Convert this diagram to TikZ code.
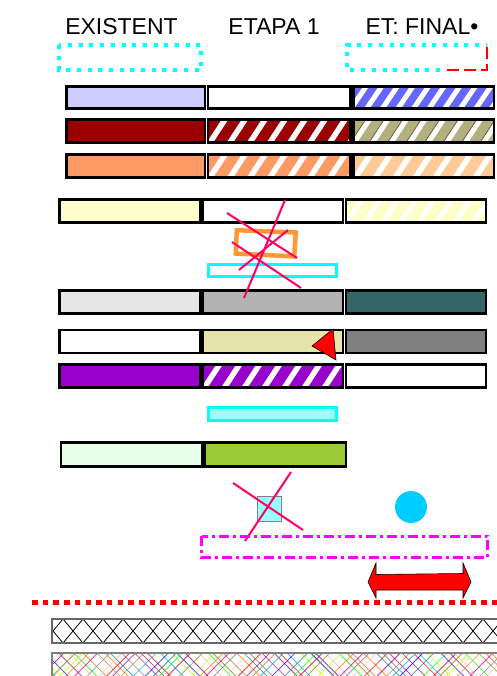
\documentclass[tikz,border=0pt]{standalone}
\usepackage{fontspec}
\setmainfont{Liberation Sans}
\usepackage{xcolor}
\usepackage{tikz}

\definecolor{barlilac}{HTML}{CCCCFF}
\definecolor{barblue}{HTML}{6666FF}
\definecolor{barwine}{HTML}{990000}
\definecolor{barolive}{HTML}{B3B080}
\definecolor{barbrown}{HTML}{7A5A2A}
\definecolor{barsalmon}{HTML}{FF9966}
\definecolor{barpeach}{HTML}{FFCC99}
\definecolor{barcream}{HTML}{FFFFCC}
\definecolor{barlemon}{HTML}{FFFF88}
\definecolor{barsilver}{HTML}{E6E6E6}
\definecolor{bargray}{HTML}{B3B3B3}
\definecolor{barteal}{HTML}{336666}
\definecolor{barbeige}{HTML}{E6E3AD}
\definecolor{bardim}{HTML}{808080}
\definecolor{barpurple}{HTML}{9900CC}
\definecolor{barmint}{HTML}{E6FFE6}
\definecolor{barlime}{HTML}{99CC33}
\definecolor{aqua}{HTML}{99FFFF}
\definecolor{aqualine}{HTML}{00FFFF}
\definecolor{fuchsia}{HTML}{FF00FF}
\definecolor{pure red}{HTML}{FF0000}
\definecolor{sky}{HTML}{00CCFF}
\definecolor{slash}{HTML}{FF0066}
\definecolor{tangerine}{HTML}{FF9933}

\tikzset{
  bar/.style={draw=black,line width=2.5pt},
  cross/.style={slash,line width=2pt},
  heading/.style={anchor=base,inner sep=0pt,font=\fontsize{23}{27}\selectfont}
}

% white bands across a cell
\newcommand{\stripes}[6]{%
  \begin{scope}
    \clip (#1,#2) rectangle (#3,#4);
    \foreach \k in {0,...,17}
      \draw[#6] ({#1-22+\k*#5},#4+6) -- ({#1+1+\k*#5},#2-6);
  \end{scope}}

\begin{document}
\begin{tikzpicture}[x=1pt,y=-1pt]
\useasboundingbox (0,0) rectangle (496,676);

% headings
\node[heading] (existent) at (121.5,34.3) {EXISTENT};
\node[heading] (etapa) at (274,34.3) {ETAPA 1};
\node[heading] (final) at (422,34.3) {ET: FINAL•};

% dotted frames
\draw[aqualine,line width=4pt,dash pattern=on 4pt off 6.7pt] (59,45) rectangle (201,70);
\draw[aqualine,line width=4pt,dash pattern=on 4pt off 6.7pt] (440,70) -- (347,70) -- (347,45) -- (486,45);
\draw[pure red,line width=2pt,dash pattern=on 12pt off 5pt] (487,47) -- (487,70) -- (444,70);

% rows 1-3
\draw[bar,fill=barlilac] (66.5,86.5) rectangle (205,108.5);
\draw[bar,fill=white] (208,86.5) rectangle (350.5,108.5);
\fill[barblue] (353.5,86.5) rectangle (494,108.5);
\stripes{353.5}{86.5}{494}{108.5}{15.6}{white,line width=5pt}
\draw[bar] (353.5,86.5) rectangle (494,108.5);

\draw[bar,fill=barwine] (66.5,119.5) rectangle (205,142.5);
\fill[barwine] (208,119.5) rectangle (350.5,142.5);
\stripes{208}{119.5}{350.5}{142.5}{20}{white,line width=5.5pt}
\draw[bar] (208,119.5) rectangle (350.5,142.5);
\fill[barolive] (353.5,119.5) rectangle (494,142.5);
\stripes{353.5}{119.5}{494}{142.5}{18.5}{white,line width=5.5pt}
\stripes{353.5}{119.5}{494}{142.5}{18.5}{barbrown,line width=0.8pt,xshift=-3.4pt}
\draw[bar] (353.5,119.5) rectangle (494,142.5);

\draw[bar,fill=barsalmon] (66.5,154.5) rectangle (205,177.5);
\fill[barsalmon] (208,154.5) rectangle (350.5,177.5);
\stripes{208}{154.5}{350.5}{177.5}{20}{white,line width=5.5pt}
\draw[bar] (208,154.5) rectangle (350.5,177.5);
\fill[barpeach] (353.5,154.5) rectangle (494,177.5);
\stripes{353.5}{154.5}{494}{177.5}{20}{white,line width=5.5pt}
\draw[bar] (353.5,154.5) rectangle (494,177.5);

% row 4
\draw[bar,fill=barcream] (59.5,199.5) rectangle (200,222.5);
\draw[bar,fill=white] (202.5,199.5) rectangle (343,222.5);
\fill[barcream] (346,199.5) rectangle (486,222.5);
\stripes{346}{199.5}{486}{222.5}{18}{white,line width=5.5pt}
\stripes{346}{199.5}{486}{222.5}{18}{barlemon,line width=0.8pt,xshift=-3.4pt}
\draw[bar] (346,199.5) rectangle (486,222.5);

% frames under row 4
\draw[tangerine,line width=4.5pt] (236.8,230.2) -- (295.8,232.5) -- (294.2,256.5) -- (235.8,253.5) -- cycle;
\draw[aqualine,line width=2.5pt] (208.3,264.3) rectangle (336.7,276.7);

% row 5
\draw[bar,fill=barsilver] (59.5,290.5) rectangle (200,313.5);
\draw[bar,fill=bargray] (202.5,290.5) rectangle (343,313.5);
\draw[bar,fill=barteal] (346,290.5) rectangle (486,313.5);

% crossing strokes
\draw[cross] (285,200) -- (244,298);
\draw[cross] (239,270) -- (288,230);
\draw[cross] (227,213) -- (297,258);
\draw[cross] (232,242) -- (301,288);

% rows 6-7
\draw[bar,fill=white] (59.5,330) rectangle (200,353);
\draw[bar,fill=barbeige] (202.5,330) rectangle (343,353);
\draw[bar,fill=bardim] (346,330) rectangle (486,353);

\draw[bar,fill=barpurple] (59.5,364.5) rectangle (200,387.5);
\fill[barpurple] (202.5,364.5) rectangle (343,387.5);
\stripes{202.5}{364.5}{343}{387.5}{20}{white,line width=5.5pt}
\draw[bar] (202.5,364.5) rectangle (343,387.5);
\draw[bar,fill=white] (346,364.5) rectangle (486,387.5);

\draw[fill=pure red,draw=black,line width=0.6pt] (333,329) -- (312,346) -- (336,360) -- cycle;

% aqua strip
\draw[aqualine,fill=aqua,line width=2.5pt] (208.3,407.3) rectangle (336.7,420.7);

% row 8
\draw[bar,fill=barmint] (61,442.5) rectangle (202,466.5);
\draw[bar,fill=barlime] (204.5,442.5) rectangle (346,466.5);

% small square, dot
\draw[fill=aqua,draw=gray,line width=0.8pt] (257.5,496.5) rectangle (281.5,521.5);
\draw[cross] (291,472) -- (245,541);
\draw[cross] (233,483) -- (303,530);
\fill[sky] (411,507) circle (16);

\draw[fuchsia,line width=3pt,dash pattern=on 10pt off 4pt on 3pt off 4pt] (201.5,536) rectangle (487.5,557.5);

% double arrow
\draw[fill=pure red,draw=black,line width=0.6pt] (368,582) -- (376,563) -- (376,574.5) -- (463,573.5) -- (463,563)
  -- (471,582) -- (463,598) -- (463,590) -- (376,590) -- (376,598) -- cycle;

% red dotted line
\draw[pure red,line width=5pt,dash pattern=on 5.5pt off 5.2pt] (32,602) -- (500,602);

% crosshatch bars
\begin{scope}
  \clip (52,619) rectangle (500,643);
  \foreach \k in {-1,...,23} {
    \draw[black,line width=0.8pt] ({63+20*\k},619) -- ({83+20*\k},643);
    \draw[black,line width=0.8pt] ({63+20*\k},619) -- ({43+20*\k},643);
  }
\end{scope}
\draw[gray!80!black,line width=1.2pt] (52,619) rectangle (510,643);

\begin{scope}
  \clip (52,653) rectangle (500,690);
  \foreach \k in {0,...,52} {
    \pgfmathsetmacro\hc{{"red","blue","green","orange","magenta","cyan","violet","olive","teal","purple","lime","pink","brown","gray"}[int(mod(\k*5,14))]}
    \pgfmathsetmacro\hd{{"cyan","olive","pink","blue","lime","red","teal","orange","violet","green","magenta","brown","purple","gray"}[int(mod(\k*3,14))]}
    \draw[\hc,line width=0.8pt,opacity=0.75] ({20+\k*9.3+3*sin(\k*97)},653) -- ++(34,34);
    \draw[\hd,line width=0.8pt,opacity=0.75] ({26+\k*9.3+3*cos(\k*71)},653) -- ++(-34,34);
  }
\end{scope}
\draw[gray,line width=1.2pt] (52,690) -- (52,653) -- (510,653);
\end{tikzpicture}
\end{document}
